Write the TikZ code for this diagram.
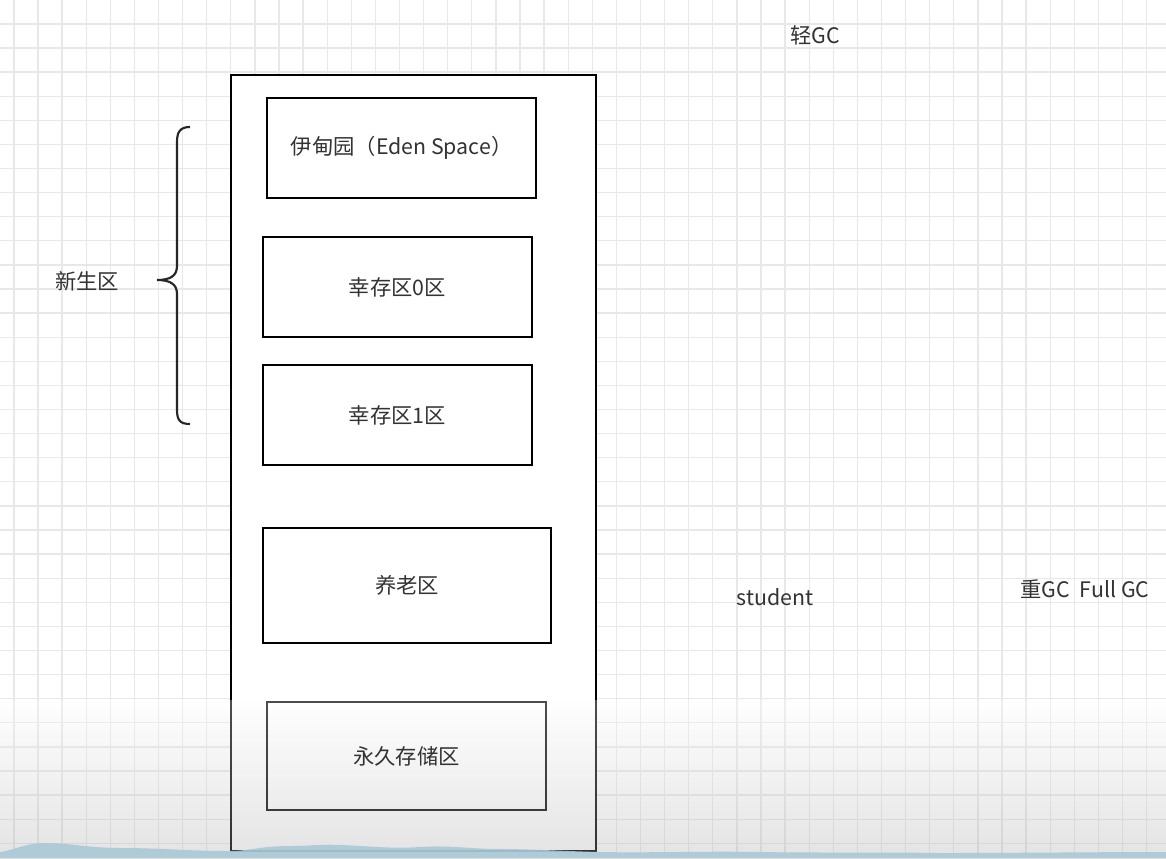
\documentclass[tikz,border=0pt]{standalone}
\usepackage{fontspec}
\setmainfont{Noto Sans CJK SC}
\usepackage{tikz}
\usetikzlibrary{positioning}

\definecolor{gridline}{HTML}{E8E8E8}
\definecolor{wave}{HTML}{A9C9D6}

\begin{document}
\begin{tikzpicture}[x=0.75pt,y=-0.75pt]
  \tikzstyle{area}=[draw,line width=1.6pt,fill=white,inner sep=0pt]
  \tikzstyle{lbl}=[font=\fontsize{16}{19}\selectfont,text=black!80]

  \useasboundingbox (0,0) rectangle (1166,858);
  \fill[white] (0,0) rectangle (1166,858);

  % grid
  \foreach \i in {0,...,47}
    \draw[gridline,line width=1pt] ({13.9+24.1*\i},0) -- ++(0,858);
  \foreach \j in {0,...,35}
    \draw[gridline,line width=1pt] (0,{23.9+24.1*\j}) -- ++(1166,0);

  % heap
  \node[area,minimum width=365*0.75pt,minimum height=776*0.75pt] (heap) at (413.5,463) {};

  \node[area,minimum width=269*0.75pt,minimum height=100*0.75pt] (eden) at (401.5,148) {};
  \node[lbl] at (eden) {伊甸园（Eden Space）};
  \node[area,minimum width=269*0.75pt,minimum height=100*0.75pt] (s0) at (397.5,287) {};
  \node[lbl] at (s0) {幸存区0区};
  \node[area,minimum width=269*0.75pt,minimum height=100*0.75pt] (s1) at (397.5,415) {};
  \node[lbl] at (s1) {幸存区1区};
  \node[area,minimum width=288*0.75pt,minimum height=115*0.75pt] (old) at (407,585.5) {};
  \node[lbl] at (old) {养老区};
  \node[area,minimum width=279*0.75pt,minimum height=108*0.75pt] (perm) at (406.5,756) {};

  % brace
  \draw[line width=1.6pt,black!85] (190,127) .. controls (180,127) and (177,132) .. (177,142)
    -- (177,266) .. controls (177,276) and (170,280) .. (157,280)
    .. controls (170,280) and (177,284) .. (177,294)
    -- (177,410) .. controls (177,420) and (180,424) .. (190,424);
  \node[lbl] (young) at (87,281) {新生区};

  \node[lbl] (minor) at (815,35) {轻GC};
  \node[lbl] (obj) at (775,597) {student};
  \node[lbl] (major) at (1085,589) {重GC\ \ Full GC};

  % bottom fade
  \shade[top color=white,bottom color=black!35,opacity=0.3] (0,700) rectangle (1166,858);
  \fill[wave,opacity=0.9] (0,858) -- (0,852) .. controls (15,850) and (25,843) .. (45,843)
    .. controls (70,843) and (90,848) .. (120,848) .. controls (160,848) and (190,851) .. (230,851)
    .. controls (250,851) and (260,846) .. (290,846) .. controls (310,846) and (320,844) .. (340,845)
    .. controls (370,846) and (390,849) .. (420,847) .. controls (450,845) and (470,849) .. (500,849)
    .. controls (530,849) and (560,851) .. (600,852) .. controls (650,853) and (700,851) .. (760,852)
    .. controls (820,853) and (880,852) .. (940,853) .. controls (1020,853) and (1100,852) .. (1166,852)
    -- (1166,858) -- cycle;
  \node[lbl] at (perm) {永久存储区};
\end{tikzpicture}
\end{document}
